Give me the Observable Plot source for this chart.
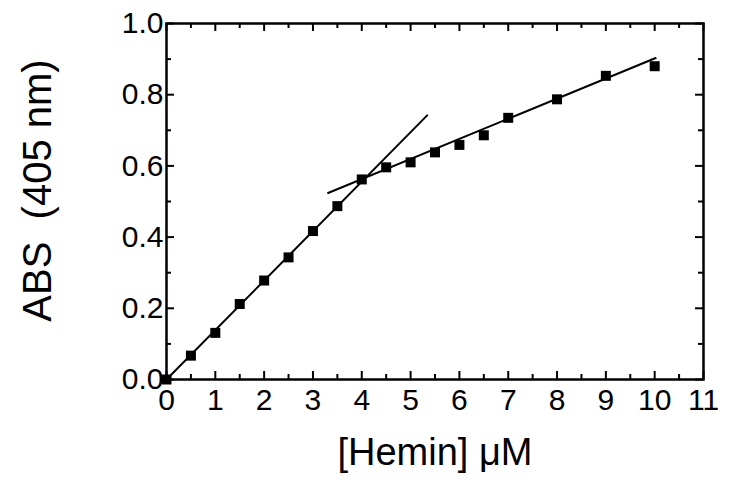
<!DOCTYPE html>
<html><head><meta charset="utf-8">
<script src="https://cdn.jsdelivr.net/npm/d3@7"></script>
<script src="https://cdn.jsdelivr.net/npm/@observablehq/plot@0.6"></script>
<style>body{margin:0;background:#fff}</style>
</head><body><div id="chart"></div>
<script>
// Data
const hemin = [0, 0.5, 1, 1.5, 2, 2.5, 3, 3.5, 4, 4.5, 5, 5.5, 6, 6.5, 7, 8, 9, 10];
const abs = [0, 0.067, 0.131, 0.212, 0.278, 0.343, 0.417, 0.487, 0.562, 0.596, 0.610, 0.638, 0.659, 0.686, 0.735, 0.787, 0.853, 0.880];
const fit1X = [0, 5.34];
const fit1Y = [0, 0.742];
const fit2X = [3.31, 10.02];
const fit2Y = [0.524, 0.903];
const xTicks = [0, 1, 2, 3, 4, 5, 6, 7, 8, 9, 10, 11];
const xMinor = [0.5, 1.5, 2.5, 3.5, 4.5, 5.5, 6.5, 7.5, 8.5, 9.5, 10.5];
const yTicks = [0, 0.2, 0.4, 0.6, 0.8, 1.0];
const yMinor = [0.1, 0.3, 0.5, 0.7, 0.9];
const xTitle = "[Hemin] \u03bcM";
const yTitle = "ABS\u00a0 (405 nm)";

const W = 729, H = 485, mL = 166, mR = 26, mT = 23, mB = 106;
const pw = W - mL - mR, ph = H - mT - mB;
const maj = 8, mnr = 5;

const pts = hemin.map((x, i) => ({x, y: abs[i]}));
const l1 = fit1X.map((x, i) => ({x, y: fit1Y[i]}));
const l2 = fit2X.map((x, i) => ({x, y: fit2Y[i]}));
const font = "'Liberation Sans', Arial, sans-serif";

const chart = Plot.plot({
  width: W, height: H,
  marginLeft: mL, marginRight: mR, marginTop: mT, marginBottom: mB,
  x: {domain: [0, 11]},
  y: {domain: [0, 1.0]},
  style: {fontFamily: font, background: "white", color: "black"},
  marks: [
    Plot.axisX({ticks: xTicks, tickSize: 0, tickPadding: 9, fontSize: 30, tickFormat: d => String(d), label: null}),
    Plot.axisY({ticks: yTicks, tickSize: 0, tickPadding: 3, fontSize: 30, tickFormat: d3.format(".1f"), label: null}),
    Plot.tickX(xTicks, {x: d => d, insetTop: ph - maj, strokeWidth: 2}),
    Plot.tickX(xTicks, {x: d => d, insetBottom: ph - maj, strokeWidth: 2}),
    Plot.tickX(xMinor, {x: d => d, insetTop: ph - mnr, strokeWidth: 2}),
    Plot.tickX(xMinor, {x: d => d, insetBottom: ph - mnr, strokeWidth: 2}),
    Plot.tickY(yTicks, {y: d => d, insetRight: pw - maj, strokeWidth: 2}),
    Plot.tickY(yTicks, {y: d => d, insetLeft: pw - maj, strokeWidth: 2}),
    Plot.tickY(yMinor, {y: d => d, insetRight: pw - mnr, strokeWidth: 2}),
    Plot.tickY(yMinor, {y: d => d, insetLeft: pw - mnr, strokeWidth: 2}),
    Plot.frame({strokeWidth: 2.5}),
    Plot.line(l1, {x: "x", y: "y", strokeWidth: 2}),
    Plot.line(l2, {x: "x", y: "y", strokeWidth: 2}),
    Plot.dot(pts, {x: "x", y: "y", symbol: "square", r: 5.64, fill: "black", stroke: null}),
    Plot.text([xTitle], {frameAnchor: "bottom", text: d => d, fontSize: 38, textAnchor: "middle", lineAnchor: "bottom", dy: 85, fill: "black"}),
    Plot.text([yTitle], {frameAnchor: "left", text: d => d, fontSize: 40, textAnchor: "middle", lineAnchor: "middle", rotate: -90, dx: 38 - mL, dy: 190 - (mT + ph / 2), fill: "black"})
  ]
});
document.getElementById("chart").appendChild(chart);
</script>
</body></html>
